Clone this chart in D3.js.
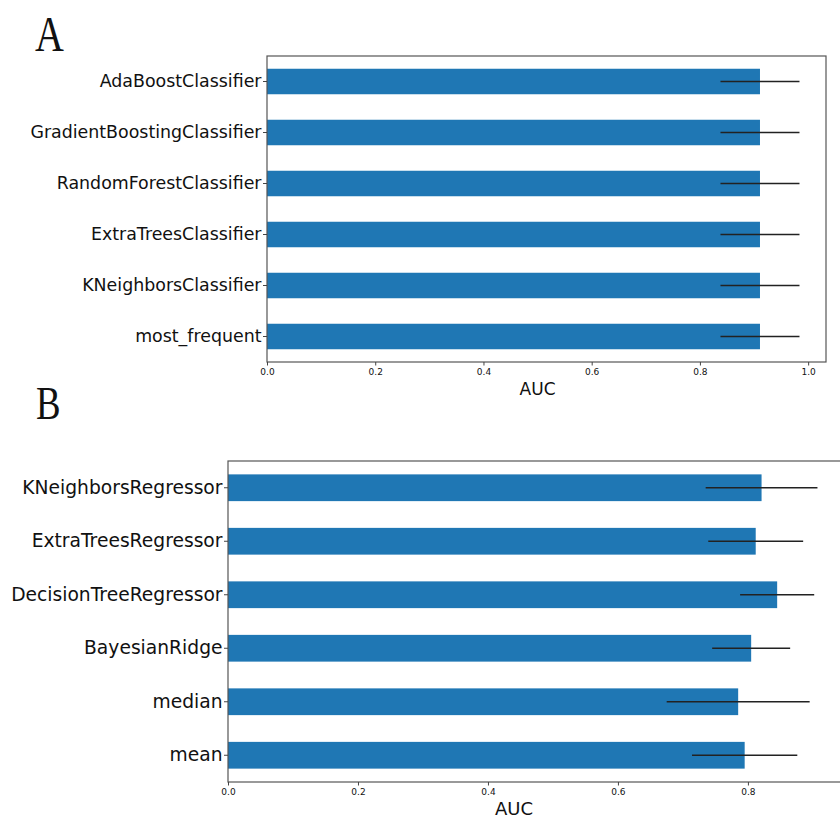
<!DOCTYPE html>
<html>
<head>
<meta charset="utf-8">
<script src="https://cdn.jsdelivr.net/npm/d3@7"></script>
<style>
  body { margin: 0; background: #fff; }
  svg text { font-family: "DejaVu Sans", sans-serif; fill: #111; }
  .letter { font-family: "Liberation Serif", "DejaVu Serif", serif; }
</style>
</head>
<body>
<div id="chart"></div>
<script>
// panel A - classifiers
var clfNames = ["AdaBoostClassifier", "GradientBoostingClassifier", "RandomForestClassifier",
                "ExtraTreesClassifier", "KNeighborsClassifier", "most_frequent"];
var clfAUC = [0.911, 0.911, 0.911, 0.911, 0.911, 0.911];
var clfErr = [0.073, 0.073, 0.073, 0.073, 0.073, 0.073];
var clfTicks = [0.0, 0.2, 0.4, 0.6, 0.8, 1.0];

// panel B - regressors
var regNames = ["KNeighborsRegressor", "ExtraTreesRegressor", "DecisionTreeRegressor",
                "BayesianRidge", "median", "mean"];
var regAUC = [0.821, 0.812, 0.845, 0.805, 0.785, 0.795];
var regErr = [0.086, 0.073, 0.057, 0.060, 0.110, 0.081];
var regTicks = [0.0, 0.2, 0.4, 0.6, 0.8];

var svg = d3.select("#chart").append("svg")
    .attr("width", 840)
    .attr("height", 818);

function drawPanel(cfg) {
  var g = svg.append("g")
    .attr("transform", "translate(" + cfg.left + "," + cfg.top + ")");

  var x = d3.scaleLinear()
    .domain(cfg.xdom)
    .range([0, cfg.width]);

  var y = d3.scaleBand()
    .domain(cfg.names)
    .range([0, cfg.height])
    .paddingInner(0.5)
    .paddingOuter(0.25);

  // bars
  g.selectAll(".bar")
    .data(cfg.names)
    .enter()
    .append("rect")
      .attr("x", x(0))
      .attr("y", function(d) { return y(d); })
      .attr("width", function(d, i) { return x(cfg.vals[i]) - x(0); })
      .attr("height", y.bandwidth())
      .style("fill", "#1f77b4");

  // error bars
  g.selectAll(".err")
    .data(cfg.names)
    .enter()
    .append("line")
      .attr("x1", function(d, i) { return x(cfg.vals[i] - cfg.errs[i]); })
      .attr("x2", function(d, i) { return x(cfg.vals[i] + cfg.errs[i]); })
      .attr("y1", function(d) { return y(d) + y.bandwidth() / 2; })
      .attr("y2", function(d) { return y(d) + y.bandwidth() / 2; })
      .style("stroke", "#222")
      .style("stroke-width", 1.6);

  // frame
  g.append("rect")
    .attr("width", cfg.width)
    .attr("height", cfg.height)
    .style("fill", "none")
    .style("stroke", "#555")
    .style("stroke-width", 1.2);

  // X AXIS
  var xa = g.append("g")
    .attr("transform", "translate(0," + cfg.height + ")")
    .call(d3.axisBottom(x).tickValues(cfg.ticks).tickFormat(d3.format(".1f")).tickSize(3.5).tickPadding(3));
  xa.select(".domain").remove();
  xa.selectAll("line").style("stroke", "#444");
  xa.selectAll("text").style("font-size", "9px").style("font-family", "DejaVu Sans");

  // Y AXIS
  var ya = g.append("g")
    .call(d3.axisLeft(y).tickSize(4).tickPadding(1.5));
  ya.select(".domain").remove();
  ya.selectAll("line").style("stroke", "#444");
  ya.selectAll("text").style("font-size", cfg.labelSize + "px").style("font-family", "DejaVu Sans");

  g.append("text")
    .attr("x", x(cfg.xmid))
    .attr("y", cfg.height + 33)
    .attr("text-anchor", "middle")
    .style("font-size", cfg.aucSize + "px")
    .text("AUC");

  svg.append("text")
    .attr("class", "letter")
    .attr("x", cfg.letterX)
    .attr("y", cfg.letterY)
    .attr("transform", "translate(" + cfg.letterX + "," + cfg.letterY + ") scale(0.8,1) translate(" + (-cfg.letterX) + "," + (-cfg.letterY) + ")")
    .style("font-size", cfg.letterSize + "px")
    .text(cfg.letter);
}

drawPanel({
  names: clfNames, vals: clfAUC, errs: clfErr, ticks: clfTicks,
  left: 267, top: 56, width: 559, height: 306,
  xdom: [0, 1.033], xmid: 0.5, labelSize: 17.4, aucSize: 17,
  letter: "A", letterX: 35, letterY: 51, letterSize: 50
});

drawPanel({
  names: regNames, vals: regAUC, errs: regErr, ticks: regTicks,
  left: 228, top: 461, width: 620, height: 321,
  xdom: [0, 0.954], xmid: 0.44, labelSize: 18.7, aucSize: 18,
  letter: "B", letterX: 36, letterY: 419, letterSize: 46
});
</script>
</body>
</html>
